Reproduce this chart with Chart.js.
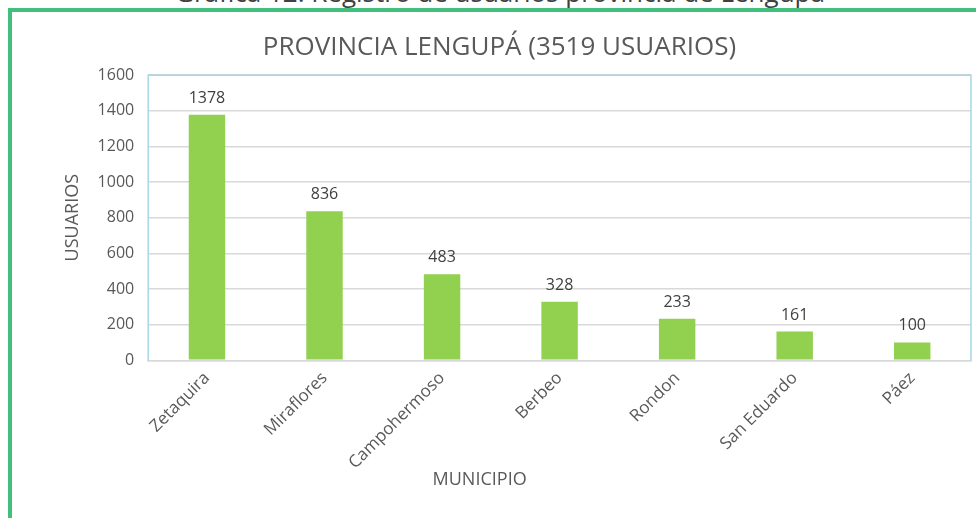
<!DOCTYPE html>
<html>
<head>
<meta charset="utf-8">
<script src="https://cdn.jsdelivr.net/npm/chart.js@4.4.1/dist/chart.umd.min.js"></script>
<style>
  html, body { margin: 0; padding: 0; background: #fff; overflow: hidden; }
  body { width: 976px; height: 518px; position: relative; font-family: "Open Sans", sans-serif; }
  #caption { position: absolute; left: 0; width: 1000px; top: -26px; text-align: center;
             font-size: 26px; color: #404040; white-space: nowrap; }
  #frame { position: absolute; left: 8px; top: 8px; width: 1000px; height: 600px;
           border: 4px solid #41bf7c; box-sizing: border-box; }
  #wrap { position: absolute; left: 14px; top: 12px; width: 962px; height: 506px; }
</style>
</head>
<body>
<div id="caption">Gráfica 12. Registro de usuarios provincia de Lengupá</div>
<div id="frame"></div>
<div id="wrap"><canvas id="lengupaChart"></canvas></div>
<script>
const municipios = ['Zetaquira', 'Miraflores', 'Campohermoso', 'Berbeo', 'Rondon', 'San Eduardo', 'Páez'];
const usuarios = [1378, 836, 483, 328, 233, 161, 100];
const yTicks = [0, 200, 400, 600, 800, 1000, 1200, 1400, 1600];

const textGrey = '#595959';
const font = '"Open Sans", sans-serif';

// values above the bars + light blue frame round the plot + x axis title
const extras = {
    id: 'extras',
    afterDatasetsDraw(chart) {
        const ctx = chart.ctx;
        const area = chart.chartArea;
        ctx.save();
        ctx.strokeStyle = '#a6d7e6';
        ctx.lineWidth = 1.5;
        ctx.beginPath();
        ctx.moveTo(area.left, area.bottom);
        ctx.lineTo(area.left, area.top);
        ctx.lineTo(area.right, area.top);
        ctx.lineTo(area.right, area.bottom);
        ctx.stroke();

        ctx.font = '16px ' + font;
        ctx.fillStyle = '#404040';
        ctx.textAlign = 'center';
        ctx.textBaseline = 'alphabetic';
        chart.getDatasetMeta(0).data.forEach(function (bar, i) {
            ctx.fillText(String(usuarios[i]), bar.x, bar.y - 12);
        });

        ctx.font = '18px ' + font;
        ctx.fillStyle = textGrey;
        ctx.fillText('MUNICIPIO', area.left + (area.right - area.left) / 2 - 80, area.bottom + 125);
        ctx.restore();
    }
};

new Chart(document.getElementById('lengupaChart').getContext('2d'), {
    type: 'bar',
    data: {
        labels: municipios,
        datasets: [{
            label: 'Usuarios',
            data: usuarios,
            backgroundColor: '#92d050',
            borderWidth: 0,
            barPercentage: 0.31,
            categoryPercentage: 1
        }]
    },
    options: {
        responsive: true,
        maintainAspectRatio: false,
        animation: false,
        layout: { padding: { left: 14, right: 5, top: 0, bottom: 37 } },
        plugins: {
            legend: { display: false },
            tooltip: { enabled: false },
            title: {
                display: true,
                text: 'PROVINCIA LENGUPÁ (3519 USUARIOS)',
                color: textGrey,
                font: { family: font, size: 26, weight: 'normal' },
                padding: { top: 20, bottom: 12 }
            }
        },
        scales: {
            x: {
                grid: { display: false, drawTicks: false },
                border: { display: true, color: '#d9d9d9', width: 1.5 },
                ticks: {
                    color: textGrey,
                    font: { family: font, size: 17 },
                    maxRotation: 45,
                    minRotation: 45,
                    padding: 8
                }
            },
            y: {
                min: 0,
                max: yTicks[yTicks.length - 1],
                afterBuildTicks(scale) {
                    scale.ticks = yTicks.map(function (v) { return { value: v }; });
                },
                grid: { color: '#d9d9d9', lineWidth: 1.5, drawTicks: false },
                border: { display: false },
                ticks: {
                    color: textGrey,
                    font: { family: font, size: 16 },
                    padding: 14,
                    callback: function (v) { return String(v); }
                },
                title: {
                    display: true,
                    text: 'USUARIOS',
                    color: textGrey,
                    font: { family: font, size: 18 },
                    padding: { top: 34, bottom: 0 }
                }
            }
        }
    },
    plugins: [extras]
});
</script>
</body>
</html>
